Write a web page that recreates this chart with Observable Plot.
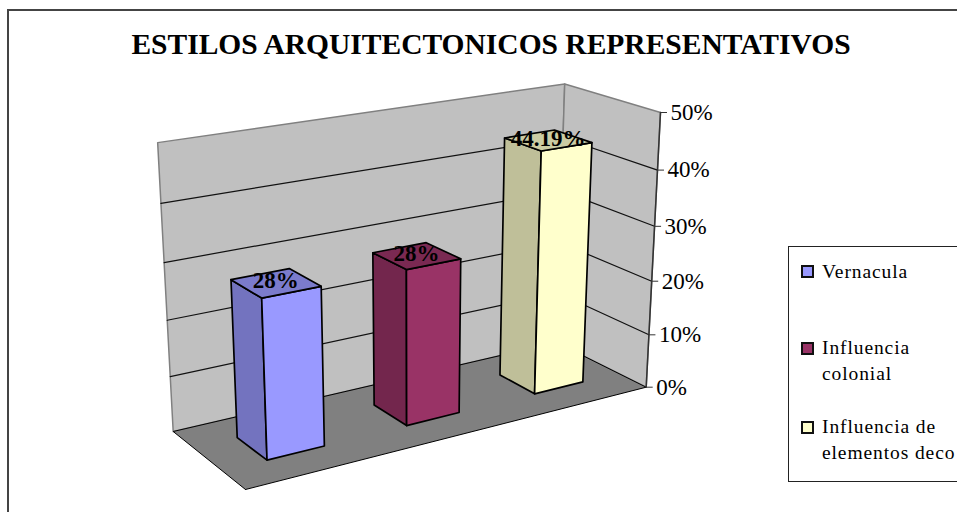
<!DOCTYPE html>
<html><head><meta charset="utf-8">
<script src="https://cdn.jsdelivr.net/npm/d3@7"></script>
<script src="https://cdn.jsdelivr.net/npm/@observablehq/plot@0.6"></script>
<style>
html,body{margin:0;padding:0;background:#fff;overflow:hidden;width:957px;height:512px}
#wrap{position:relative;width:957px;height:512px;overflow:hidden;font-family:"Liberation Serif",serif;color:#000}
#wrap svg{position:absolute;left:0;top:0;background:transparent}
#frame{position:absolute;left:7px;top:9px;width:1000px;height:600px;border:2px solid #444;box-sizing:border-box}
h2{position:absolute;left:0;top:28px;width:982px;margin:0;text-align:center;font:bold 29.5px "Liberation Serif",serif;white-space:nowrap}
#legend{position:absolute;left:788px;top:246px;width:300px;height:236px;border:1px solid #222;box-sizing:border-box;background:#fff}
.sw{position:absolute;left:12px;width:13px;height:13px;border:2px solid #111;box-sizing:border-box}
.lb{position:absolute;left:33px;font-size:19.5px;letter-spacing:.9px;line-height:26px;white-space:nowrap}
</style></head><body>
<div id="wrap"><div id="frame"></div><h2>ESTILOS ARQUITECTONICOS REPRESENTATIVOS</h2><div id="chart"></div><div id="legend"></div></div>
<script>
const categories = ["Vernacula", "Influencia colonial", "Influencia de elementos deco"];
const legendLines = [["Vernacula"], ["Influencia", "colonial"], ["Influencia de", "elementos deco"]];
const values = [27.91, 27.91, 44.19];
const valueLabels = ["28%", "28%", "44.19%"];
const axisTicks = [0, 10, 20, 30, 40, 50];
const axisMax = 50;

const frontColors = ["#9999FF", "#993366", "#FFFFCC"];
const sideColors = ["#7373BF", "#73264D", "#BFBF99"];
const topColors = ["#7B7BCC", "#7A2952", "#CCCCA3"];

// view of the 3-D box: projected corners of the floor and the vertical vanishing point
const floorView = [[245, 489], [645.7, 386.7], [556, 342], [172.7, 431]];
const vanish = [412, 4880];
const axisTop = 112;

const H = (() => {
  const [[x0,y0],[x1,y1],[x2,y2],[x3,y3]] = floorView;
  const dx1=x1-x2, dx2=x3-x2, sx=x0-x1+x2-x3, dy1=y1-y2, dy2=y3-y2, sy=y0-y1+y2-y3;
  const d=dx1*dy2-dx2*dy1, g=(sx*dy2-dx2*sy)/d, h=(dx1*sy-sx*dy1)/d;
  return [[x1-x0+g*x1, x3-x0+h*x3, x0],[y1-y0+g*y1, y3-y0+h*y3, y0],[g,h,1]];
})();
const floorH = (u,w) => H.map(r => r[0]*u + r[1]*w + r[2]);
const kV = (() => { const [X,Y,W] = floorH(1,0); return W*(axisTop - Y/W)/(vanish[1]-axisTop); })();
function project(u, w, h) {
  const [X,Y,W] = floorH(u,w);
  const d = W + h*kV;
  return [(X + h*kV*vanish[0])/d, (Y + h*kV*vanish[1])/d];
}

const band = d3.scaleBand().domain(categories).range([0,1]).paddingInner(0.6).paddingOuter(0.3);
const wf = 0.3, wb = 0.7;

function poly(id, corners, color) {
  return [...corners, corners[0]].map(c => { const p = project(...c); return {id, x:p[0], y:p[1], color}; });
}
const walls = [
  ...poly("back", [[0,1,0],[1,1,0],[1,1,1],[0,1,1]], "#C0C0C0"),
  ...poly("right", [[1,1,0],[1,0,0],[1,0,1],[1,1,1]], "#C0C0C0")
];
const floor = poly("floor", [[0,0,0],[1,0,0],[1,1,0],[0,1,0]], "#808080");

const grid = axisTicks.filter(t => t > 0 && t < axisMax).flatMap(t => {
  const h = t/axisMax;
  return [[0,1,h],[1,1,h],[1,0,h]].map(c => { const p = project(...c); return {id:t, x:p[0], y:p[1]}; });
});
const axisLine = [[1,0,0],[1,0,1]].map(c => { const p = project(...c); return {x:p[0], y:p[1]}; });

const faces = categories.flatMap((c,i) => {
  const u0 = band(c), u1 = u0 + band.bandwidth(), h = values[i]/axisMax;
  return [
    ...poly("s"+i, [[u0,wf,0],[u0,wb,0],[u0,wb,h],[u0,wf,h]], sideColors[i]),
    ...poly("f"+i, [[u0,wf,0],[u1,wf,0],[u1,wf,h],[u0,wf,h]], frontColors[i]),
    ...poly("t"+i, [[u0,wf,h],[u1,wf,h],[u1,wb,h],[u0,wb,h]], topColors[i])
  ];
});
const labelPts = categories.map((c,i) => {
  const p = project(band(c)+band.bandwidth()/2, 0.5, values[i]/axisMax);
  return {x:p[0], y:p[1], text:valueLabels[i]};
});
const axisAt = t => project(1,0,t/axisMax);

const plot = Plot.plot({
  width:957, height:512, margin:0,
  x:{domain:[0,957], range:[0,957], axis:null},
  y:{domain:[0,512], range:[0,512], axis:null},
  color:{type:"identity"},
  style:{background:"transparent", fontFamily:"Liberation Serif"},
  marks:[
    Plot.line(walls,{x:"x",y:"y",z:"id",fill:"color",stroke:"#808080",strokeWidth:1.5,curve:"linear"}),
    Plot.line(floor,{x:"x",y:"y",z:"id",fill:"color",stroke:"#000",strokeWidth:1,curve:"linear"}),
    Plot.line(grid,{x:"x",y:"y",z:"id",stroke:"#111",strokeWidth:1.2,curve:"linear"}),
    Plot.line(axisLine,{x:"x",y:"y",stroke:"#333",strokeWidth:1.5}),
    Plot.axisY(axisTicks,{
      anchor:"right", x:d=>axisAt(d)[0], y:d=>axisAt(d)[1],
      tickSize:6, tickPadding:4, text:d=>d+"%", fontSize:23, stroke:"#333", fill:"#000", label:null
    }),
    Plot.line(faces,{x:"x",y:"y",z:"id",fill:"color",stroke:"#000",strokeWidth:1.7,curve:"linear"}),
    Plot.text(labelPts,{x:"x",y:"y",text:"text",dy:-2,fontSize:23,fontWeight:"bold",fill:"#000"})
  ]
});
document.getElementById("chart").append(plot);

const lg = document.getElementById("legend");
const swatchTops = [18, 95, 174];
const textTops = [12, 88, 167];
legendLines.forEach((lines,i) => {
  const s = document.createElement("div"); s.className="sw"; s.style.top=swatchTops[i]+"px"; s.style.background=frontColors[i]; lg.append(s);
  const t = document.createElement("div"); t.className="lb"; t.style.top=textTops[i]+"px"; t.innerHTML=lines.join("<br>"); lg.append(t);
});
</script>
</body></html>
